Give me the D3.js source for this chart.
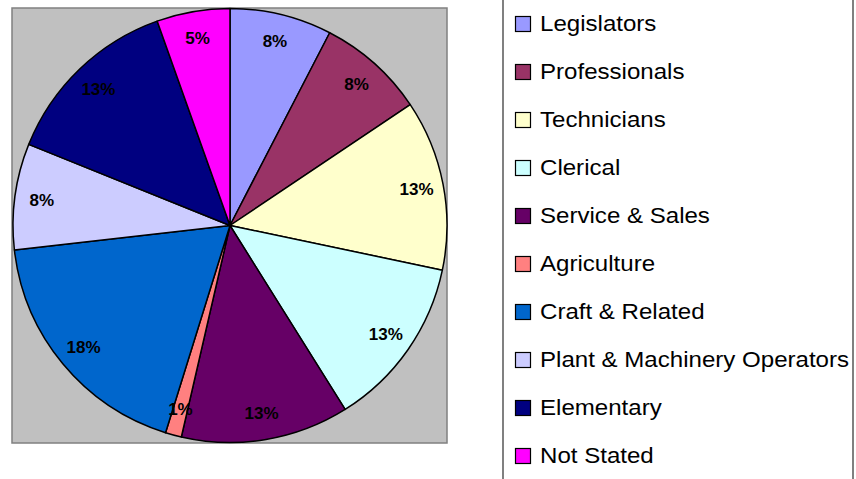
<!DOCTYPE html>
<html>
<head>
<meta charset="utf-8">
<script src="https://cdn.jsdelivr.net/npm/d3@7"></script>
<style>
  body { margin: 0; background: #fff; }
  svg { display: block; font-family: "Liberation Sans", Arial, sans-serif; }
</style>
</head>
<body>
<script>
const width = 856;
const height = 479;

// occupation groups, shares (percent)
const categories = [
  "Legislators", "Professionals", "Technicians", "Clerical", "Service & Sales",
  "Agriculture", "Craft & Related", "Plant & Machinery Operators", "Elementary", "Not Stated"
];
const shares = [7.6, 8.0, 12.7, 12.8, 12.5, 1.2, 18.4, 7.9, 13.45, 5.45];
const colors = [
  "#9999FF", "#993366", "#FFFFCC", "#CCFFFF", "#660066",
  "#FF8080", "#0066CC", "#CCCCFF", "#000080", "#FF00FF"
];

const data = categories.map((c, i) => ({ name: c, value: shares[i], color: colors[i] }));
const total = d3.sum(shares);

const svg = d3.select("body").append("svg")
  .attr("width", width)
  .attr("height", height);

// plot area
svg.append("rect")
  .attr("x", 12).attr("y", 8)
  .attr("width", 435).attr("height", 435)
  .attr("fill", "#c0c0c0")
  .attr("stroke", "#808080")
  .attr("stroke-width", 1.5);

const cx = 230, cy = 225.5, radius = 217;

const pie = d3.pie().sort(null).value(d => d.value);
const arc = d3.arc().innerRadius(0).outerRadius(radius);
const labelArc = d3.arc().innerRadius(190).outerRadius(190);

const g = svg.append("g").attr("transform", `translate(${cx},${cy})`);

const slices = pie(data);

g.selectAll("path")
  .data(slices)
  .enter()
  .append("path")
  .attr("d", arc)
  .attr("fill", d => d.data.color)
  .attr("stroke", "#000")
  .attr("stroke-width", 1.5)
  .attr("stroke-linejoin", "round");

g.selectAll("text")
  .data(slices)
  .enter()
  .append("text")
  .attr("transform", d => `translate(${labelArc.centroid(d)})`)
  .attr("text-anchor", "middle")
  .attr("dy", "0.36em")
  .style("font-size", "17px")
  .style("font-weight", "bold")
  .attr("fill", "#000")
  .text(d => Math.round(d.data.value / total * 100) + "%");

// legend box (runs off the top and bottom of the picture)
svg.append("rect")
  .attr("x", 503).attr("y", -5)
  .attr("width", 350).attr("height", 490)
  .attr("fill", "#fff")
  .attr("stroke", "#808080")
  .attr("stroke-width", 2);

const legend = svg.append("g")
  .selectAll("g")
  .data(data)
  .enter()
  .append("g")
  .attr("transform", (d, i) => `translate(0,${31 + i * 48})`);

legend.append("rect")
  .attr("x", 515.5).attr("y", -14.5)
  .attr("width", 15).attr("height", 15)
  .attr("fill", d => d.color)
  .attr("stroke", "#000")
  .attr("stroke-width", 1.2);

legend.append("text")
  .attr("transform", "translate(540,0) scale(1.07,1)")
  .style("font-size", "22.5px")
  .attr("fill", "#000")
  .text(d => d.name);
</script>
</body>
</html>
